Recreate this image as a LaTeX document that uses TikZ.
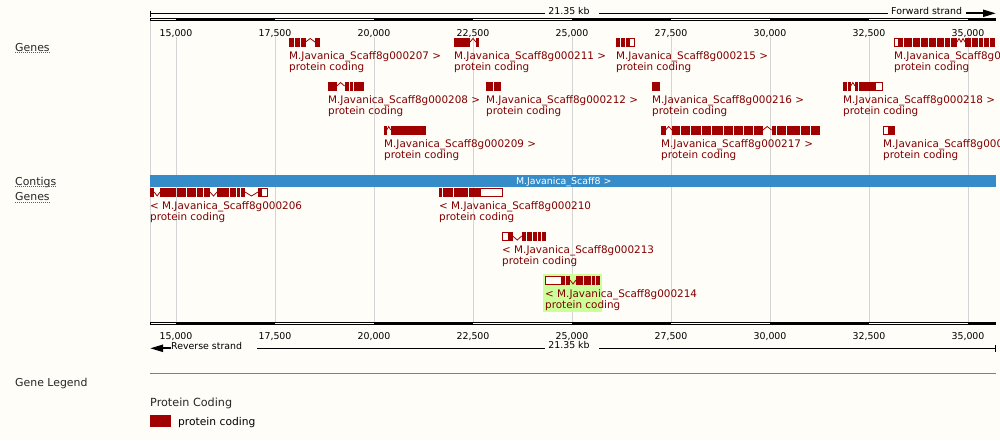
\documentclass[tikz,border=0pt]{standalone}
\usepackage{fontspec}
\setmainfont{DejaVu Sans}
\usetikzlibrary{arrows.meta}
\definecolor{gred}{RGB}{160,0,0}
\definecolor{gtext}{RGB}{128,0,0}
\definecolor{ctgblue}{RGB}{54,140,200}
\definecolor{hilite}{RGB}{204,255,153}
\definecolor{bgcream}{RGB}{255,253,248}
\definecolor{gridgray}{RGB}{212,212,212}
\definecolor{ulblue}{RGB}{50,100,190}
\begin{document}
\begin{tikzpicture}[x=1pt,y=-1pt,
  exon/.style={fill=gred},
  utr/.style={draw=gred,fill=bgcream,line width=1pt},
  intron/.style={draw=gred,line width=0.8pt},
  lbl/.style={anchor=base west,inner sep=0pt,text=gtext,font=\fontsize{10.4}{12}\selectfont},
  ticklbl/.style={anchor=base,inner sep=0pt,font=\fontsize{9.4}{11}\selectfont},
  tracklbl/.style={anchor=base west,inner sep=0pt,text=black!85,font=\fontsize{10.9}{12}\selectfont},
  uline/.style={ulblue,line width=0.9pt,dash pattern=on 1pt off 1pt}]
\clip (0,0) rectangle (1000,440);
\fill[bgcream] (0,0) rectangle (1000,440);
% grid
\draw[gridgray] (150,21) -- (150,322);
\foreach \x in {176,275,374,473,572,671,770,869,968}
  \draw[gridgray] (\x,37) -- (\x,322);
\fill[hilite] (543.3,274) rectangle (601.7,312.3);
% top ruler
\node[ticklbl] (kbtop) at (569,14) {21.35 kb};
\node[ticklbl, anchor=base west] (fwd) at (891,14) {Forward strand};
\draw (150,13.3) -- (545,13.3);
\draw (599,13.3) -- (888,13.3);
\draw (150,10.5) -- (150,16.5);
\draw[line width=2pt,-{Triangle[length=13pt,width=7pt]}] (966,13.3) -- (996,13.3);
\draw[line width=1pt] (150.5,18.8) rectangle (995.5,20.8);
\foreach \a/\b in {176/275,374/473,572/671,770/869,968/996}
  \fill (\a,18.3) rectangle (\b,21.3);
% bottom ruler
\draw[line width=1pt] (150.5,322.8) rectangle (995.5,324.8);
\foreach \a/\b in {176/275,374/473,572/671,770/869,968/996}
  \fill (\a,322.3) rectangle (\b,325.3);
\foreach \x/\t in {176/{15,000},275/{17,500},374/{20,000},473/{22,500},572/{25,000},671/{27,500},770/{30,000},869/{32,500},968/{35,000}} {
  \node[ticklbl] (tt\x) at (\x,36) {\t};
  \node[ticklbl] (tb\x) at (\x,339.3) {\t};
}
\draw[line width=2pt,-{Triangle[length=13pt,width=7pt]}] (171,348.3) -- (150,348.3);
\node[ticklbl, anchor=base west] (rev) at (171,349) {Reverse strand};
\node[ticklbl] (kbbot) at (569,348) {21.35 kb};
\draw (257,348.3) -- (545,348.3);
\draw (599,348.3) -- (995.5,348.3);
\draw (995.5,345) -- (995.5,351.5);
% contig
\fill[ctgblue] (150,175) rectangle (996,186.7);
\node[anchor=base,inner sep=0pt,text=white,font=\fontsize{9.4}{11}\selectfont] (ctg) at (563.7,184) {M.Javanica\_Scaff8 >};
% track names
\node[tracklbl] (trgenes) at (15,51) {Genes};
\node[tracklbl] (trctg) at (15,185) {Contigs};
\node[tracklbl] (trrev) at (15,200.7) {Genes};
\draw[uline] ([yshift=-1.8pt]trgenes.base west) -- ([yshift=-1.8pt]trgenes.base east);
\draw[uline] ([yshift=-1.8pt]trctg.base west) -- ([yshift=-1.8pt]trctg.base east);
\draw[uline] ([yshift=-1.8pt]trrev.base west) -- ([yshift=-1.8pt]trrev.base east);
% forward genes, row 1
\foreach \a/\b in {289/294,295/300,301/305.5,315/320} \fill[exon] (\a,38) rectangle (\b,46.5);
\draw[intron] (305.5,42) -- (310.2,38.5) -- (315,42);
\node[lbl] (n207) at (289,59) {M.Javanica\_Scaff8g000207 >};
\node[lbl] (t207) at (289,70) {protein coding};
\foreach \a/\b in {454/470,476/479} \fill[exon] (\a,38) rectangle (\b,46.5);
\draw[intron] (470,42) -- (473,38.5) -- (476,42);
\node[lbl] (n211) at (454,59) {M.Javanica\_Scaff8g000211 >};
\node[lbl] (t211) at (454,70) {protein coding};
\foreach \a/\b in {616/620,621/624.5,625.5/628.5} \fill[exon] (\a,38) rectangle (\b,46.5);
\draw[utr] (629,38.5) rectangle (634.5,46);
\node[lbl] (n215) at (616,59) {M.Javanica\_Scaff8g000215 >};
\node[lbl] (t215) at (616,70) {protein coding};
\draw[utr] (894.5,38.5) rectangle (898,46);
\foreach \a/\b in {898/903,904/912,913/920,921/928,929/936,937/944,945/950,951/957,965/971,972/978,979/983,984/989,990/995} \fill[exon] (\a,38) rectangle (\b,46.5);
\draw[intron] (957,42) -- (959,38.5) -- (961,42) -- (963,38.5) -- (965,42);
\node[lbl] (n220) at (894,59) {M.Javanica\_Scaff8g000220 >};
\node[lbl] (t220) at (894,70) {protein coding};
% forward genes, row 2
\foreach \a/\b in {328/336.7,344.5/348.5,349.5/353.3,354.3/364} \fill[exon] (\a,82) rectangle (\b,90.5);
\draw[intron] (336.7,86) -- (340.6,82.5) -- (344.5,86);
\node[lbl] (n208) at (328,103) {M.Javanica\_Scaff8g000208 >};
\node[lbl] (t208) at (328,114) {protein coding};
\foreach \a/\b in {486/493,494/501} \fill[exon] (\a,82) rectangle (\b,90.5);
\node[lbl] (n212) at (486,103) {M.Javanica\_Scaff8g000212 >};
\node[lbl] (t212) at (486,114) {protein coding};
\fill[exon] (652,82) rectangle (660,90.5);
\node[lbl] (n216) at (652,103) {M.Javanica\_Scaff8g000216 >};
\node[lbl] (t216) at (652,114) {protein coding};
\foreach \a/\b in {843/847.3,848.3/850.7,855/857.7,858.7/875} \fill[exon] (\a,82) rectangle (\b,90.5);
\draw[intron] (850.7,86) -- (852.8,82.5) -- (855,86);
\draw[utr] (875.5,82.5) rectangle (882.5,90);
\node[lbl] (n218) at (843,103) {M.Javanica\_Scaff8g000218 >};
\node[lbl] (t218) at (843,114) {protein coding};
% forward genes, row 3
\foreach \a/\b in {384/386.7,390.7/425.7} \fill[exon] (\a,126) rectangle (\b,134.5);
\draw[intron] (386.7,130) -- (388.7,126.5) -- (390.7,130);
\node[lbl] (n209) at (384,147) {M.Javanica\_Scaff8g000209 >};
\node[lbl] (t209) at (384,158) {protein coding};
\foreach \a/\b in {661/665.5,672/680,681/690,691/701,702/711,712/722.5,723.5/733,734/743,744/753,754/763,771.5/776,777/786,787/799.5,800.5/809.5,810.5/820} \fill[exon] (\a,126) rectangle (\b,134.5);
\draw[intron] (665.5,130) -- (668.7,126.5) -- (672,130);
\draw[intron] (763,130) -- (767.2,126.5) -- (771.5,130);
\node[lbl] (n217) at (661,147) {M.Javanica\_Scaff8g000217 >};
\node[lbl] (t217) at (661,158) {protein coding};
\draw[utr] (883.5,126.5) rectangle (888,134);
\fill[exon] (888,126) rectangle (895,134.5);
\node[lbl] (n219) at (883,147) {M.Javanica\_Scaff8g000219 >};
\node[lbl] (t219) at (883,158) {protein coding};
% reverse genes, row 1
\foreach \a/\b in {150/154.3,160/176,177/186,187/195.5,196.5/203,204/210,217/229,230/236,237/240,241/245,258/261} \fill[exon] (\a,188) rectangle (\b,196.5);
\draw[intron] (154.3,192) -- (157.1,196) -- (160,192);
\draw[intron] (210,192) -- (213.5,196) -- (217,192);
\draw[intron] (245,192) -- (251.5,196) -- (258,192);
\draw[utr] (261.5,188.5) rectangle (267.2,196);
\node[lbl] (n206) at (150,209.5) {< M.Javanica\_Scaff8g000206};
\node[lbl] (t206) at (150,220.5) {protein coding};
\foreach \a/\b in {439/441.5,442.5/453,454/468,469/480} \fill[exon] (\a,188) rectangle (\b,196.5);
\draw[utr] (480.5,188.5) rectangle (502.2,196);
\node[lbl] (n210) at (439,209.5) {< M.Javanica\_Scaff8g000210};
\node[lbl] (t210) at (439,220.5) {protein coding};
% reverse genes, row 2
\draw[utr] (502.8,232.5) rectangle (508.3,240);
\foreach \a/\b in {508.3/512.7,521.7/526,527/531.7,532.7/536.7,537.7/541,542/546} \fill[exon] (\a,232) rectangle (\b,240.5);
\draw[intron] (512.7,236) -- (517.2,240) -- (521.7,236);
\node[lbl] (n213) at (502,253.5) {< M.Javanica\_Scaff8g000213};
\node[lbl] (t213) at (502,264.5) {protein coding};
% reverse genes, row 3
\draw[utr] (545.5,276.5) rectangle (561.7,284);
\foreach \a/\b in {561.7/565,566/570,576/583,584/591,592/595,596/600} \fill[exon] (\a,276) rectangle (\b,284.5);
\draw[intron] (570,280) -- (573,284) -- (576,280);
\node[lbl] (n214) at (545,297.5) {< M.Javanica\_Scaff8g000214};
\node[lbl] (t214) at (545,308.5) {protein coding};
% legend
\draw[gray] (150,373.3) -- (996,373.3);
\node[tracklbl] (leg) at (15,386) {Gene Legend};
\node[anchor=base west,inner sep=0pt,text=black!85,font=\fontsize{11.2}{13}\selectfont] (legpc) at (150,406.7) {Protein Coding};
\fill[gred] (150,415) rectangle (171,426.7);
\node[anchor=base west,inner sep=0pt,font=\fontsize{10.7}{12}\selectfont] (legitem) at (178,425) {protein coding};
\end{tikzpicture}
\end{document}
